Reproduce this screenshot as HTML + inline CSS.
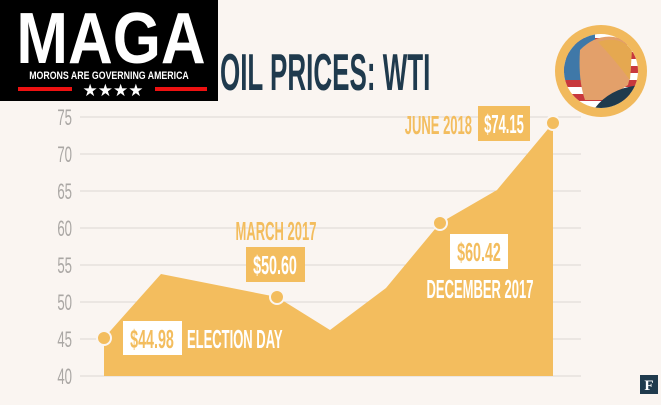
<!DOCTYPE html>
<html><head><meta charset="utf-8"><style>
body{margin:0;width:661px;height:400px;overflow:hidden;background:#faf5f1;font-family:"Liberation Sans",sans-serif}
</style></head><body>
<svg width="661" height="400" viewBox="0 0 661 400" xmlns="http://www.w3.org/2000/svg">
<rect width="661" height="400" fill="#faf5f1"/>
<g stroke="#dcd8d4" stroke-width="1">
<line x1="80" y1="117" x2="581" y2="117"/><line x1="80" y1="154" x2="581" y2="154"/>
<line x1="80" y1="191" x2="581" y2="191"/><line x1="80" y1="228" x2="581" y2="228"/>
<line x1="80" y1="265" x2="581" y2="265"/><line x1="80" y1="302" x2="581" y2="302"/>
<line x1="80" y1="339" x2="581" y2="339"/><line x1="80" y1="376" x2="581" y2="376"/>
</g>
<g fill="#aaa7a4" font-size="22" text-anchor="end">
<text x="72" y="125" transform="translate(72 0) scale(0.6 1) translate(-72 0)">75</text>
<text x="72" y="162" transform="translate(72 0) scale(0.6 1) translate(-72 0)">70</text>
<text x="72" y="199" transform="translate(72 0) scale(0.6 1) translate(-72 0)">65</text>
<text x="72" y="236" transform="translate(72 0) scale(0.6 1) translate(-72 0)">60</text>
<text x="72" y="273" transform="translate(72 0) scale(0.6 1) translate(-72 0)">55</text>
<text x="72" y="310" transform="translate(72 0) scale(0.6 1) translate(-72 0)">50</text>
<text x="72" y="347" transform="translate(72 0) scale(0.6 1) translate(-72 0)">45</text>
<text x="72" y="384" transform="translate(72 0) scale(0.6 1) translate(-72 0)">40</text>
</g>
<polygon fill="#f3bd5e" points="104,376 104,338 161,274 277,297 330,330 386,288 440,223 497,190 553,123 553,376"/>
<g fill="#f3bd5e" stroke="#faf5f1" stroke-width="2">
<circle cx="104" cy="338" r="7"/><circle cx="277" cy="297" r="7"/><circle cx="440" cy="223" r="7"/><circle cx="553" cy="123" r="7"/>
</g>
<g font-weight="bold" font-size="26">
<rect x="123" y="321" width="59" height="34" fill="#fff"/>
<text x="152" y="348" fill="#f3bd5e" text-anchor="middle" transform="translate(152 0) scale(0.55 1) translate(-152 0)">$44.98</text>
<text x="187" y="348" fill="#fff" transform="translate(187 0) scale(0.5 1) translate(-187 0)">ELECTION DAY</text>
<text x="276" y="240" fill="#f3bd5e" text-anchor="middle" transform="translate(276 0) scale(0.5 1) translate(-276 0)">MARCH 2017</text>
<rect x="246" y="247" width="59" height="35" fill="#f3bd5e"/>
<text x="275" y="274" fill="#fff" text-anchor="middle" transform="translate(275 0) scale(0.55 1) translate(-275 0)">$50.60</text>
<rect x="450" y="234" width="58" height="35" fill="#fff"/>
<text x="479" y="261" fill="#f3bd5e" text-anchor="middle" transform="translate(479 0) scale(0.55 1) translate(-479 0)">$60.42</text>
<text x="480" y="298" fill="#fff" text-anchor="middle" transform="translate(480 0) scale(0.5 1) translate(-480 0)">DECEMBER 2017</text>
<text x="472" y="134" fill="#f3bd5e" text-anchor="end" transform="translate(472 0) scale(0.5 1) translate(-472 0)">JUNE 2018</text>
<rect x="478" y="106" width="52" height="35" fill="#f3bd5e"/>
<text x="504" y="133" fill="#fff" text-anchor="middle" transform="translate(504 0) scale(0.5 1) translate(-504 0)">$74.15</text>
</g>
<text x="220" y="90" fill="#1f3a4d" font-weight="bold" font-size="52" transform="translate(220 0) scale(0.5 1) translate(-220 0)">OIL PRICES: WTI</text>
<rect x="0" y="0" width="218" height="101" fill="#000"/>
<text x="111" y="63" fill="#fff" font-weight="bold" font-size="72" text-anchor="middle" transform="translate(111 0) scale(0.86 1) translate(-111 0)">MAGA</text>
<text x="109" y="79" fill="#fff" font-weight="bold" font-size="11" text-anchor="middle" transform="translate(109 0) scale(0.8 1) translate(-109 0)">MORONS ARE GOVERNING AMERICA</text>
<rect x="18" y="87" width="54" height="4" fill="#e11"/><rect x="155" y="87" width="52" height="4" fill="#e11"/>
<text x="113" y="96" fill="#fff" font-size="17" text-anchor="middle">★★★★</text>
<circle cx="601" cy="71" r="46" fill="#f1b95c"/>
<circle cx="601" cy="71" r="37" fill="#fff"/>
<clipPath id="c"><circle cx="601" cy="71" r="37"/></clipPath>
<g clip-path="url(#c)">
<rect x="560" y="38" width="90" height="7" fill="#c8383d"/><rect x="560" y="52" width="90" height="7" fill="#c8383d"/>
<rect x="560" y="66" width="90" height="7" fill="#c8383d"/><rect x="560" y="80" width="90" height="7" fill="#c8383d"/><rect x="560" y="94" width="90" height="7" fill="#c8383d"/>
<rect x="560" y="30" width="35" height="50" fill="#3f78a8"/>
<path d="M580 50 Q600 30 625 40 Q635 60 628 85 L605 100 L585 100 Q578 80 580 50Z" fill="#e3a06a"/>
<path d="M598 42 Q620 35 632 50 L630 80 Q615 60 598 42Z" fill="#e5a850"/>
<path d="M595 108 Q610 88 640 85 L640 110Z" fill="#1f3a4d"/>
</g>
<rect x="640" y="375" width="18" height="19" fill="#1f3a4d"/>
<text x="649" y="390" fill="#fff" font-family="Liberation Serif,serif" font-weight="bold" font-size="15" text-anchor="middle">F</text>
</svg>
</body></html>
